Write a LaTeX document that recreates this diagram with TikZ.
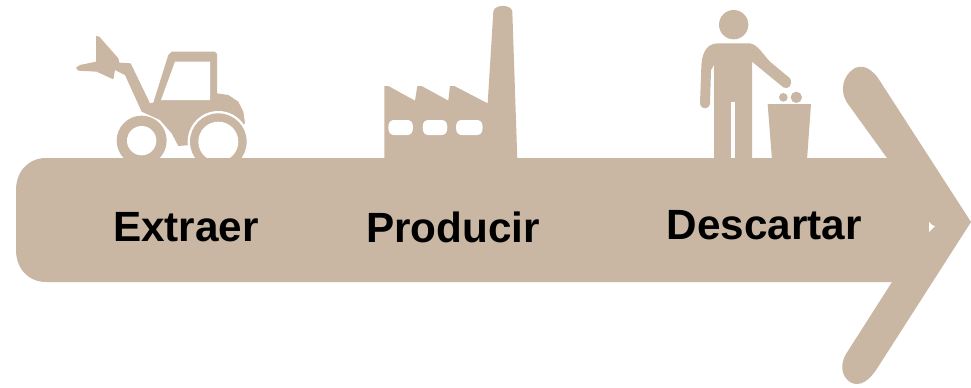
\documentclass[tikz,border=0pt]{standalone}
\usepackage{fontspec}
\setmainfont{Liberation Sans}
\definecolor{tan}{HTML}{C9B6A3}
\tikzset{
  tanfill/.style={fill=tan,draw=none},
  holefill/.style={fill=white,draw=none},
  labeltext/.style={font=\fontsize{31.7}{34}\selectfont\bfseries,text=black,inner sep=0pt,anchor=center},
  zoomone/.style={shift={(60,20)},scale=1/3},
  zoomtwo/.style={shift={(370,0)},scale=1/3},
  zoomthree/.style={shift={(680,0)},scale=1/3}
}
\begin{document}
\begin{tikzpicture}[x=0.75pt,y=-0.75pt]
\useasboundingbox (0,0) rectangle (971,387);
% tractor
\begin{scope}[zoomone]
\fill[tanfill] (108,48) -- (118,50) -- (175,115) -- (178,128) -- (212,130)
  -- (270,250) -- (280,248) -- (325,105) -- (335,95) -- (465,95) -- (471,102)
  -- (471,220) -- (505,225) -- (535,245) -- (550,275) -- (555,310) -- (540,320)
  -- (390,375) -- (355,378) -- (335,340) -- (300,300) -- (245,275)
  -- (195,165) -- (165,150) -- (160,178) -- (110,155) -- (55,152) -- (48,143)
  -- (60,135) -- (108,125) -- cycle;
\fill[holefill] (345,125) -- (450,125) -- (450,240) -- (303,240) -- cycle;
\fill[holefill] (475,365) circle (92);
\fill[tanfill] (475,365) circle (85);
\fill[holefill] (475,365) circle (60);
\fill[holefill] (245,365) circle (80);
\fill[tanfill] (245,362) circle (75);
\fill[holefill] (245,362) circle (44);
\end{scope}
% bar
\fill[tanfill] (46,158) -- (900,158) -- (900,282) -- (46,282)
  .. controls (28,282) and (16,268) .. (16,250) -- (16,190)
  .. controls (16,172) and (28,158) .. (46,158) -- cycle;
% arrow head
\fill[tanfill] (887,158) -- (848,104)
  .. controls (838,90) and (844,74) .. (855,68)
  .. controls (864,64) and (872,70) .. (878,78)
  -- (971,222) -- (878,367)
  .. controls (870,380) and (860,388) .. (850,382)
  .. controls (841,376) and (840,364) .. (846,354)
  -- (892,282) -- (880,220) -- cycle;
\fill[holefill] (929,222) -- (932,225) -- (935,226) -- (932,229) -- (929,232) -- cycle;
% factory
\begin{scope}[zoomtwo]
\fill[tanfill] (43,480) -- (43,258) -- (55,258) -- (135,302) -- (142,258) -- (155,258)
  -- (235,302) -- (240,258) -- (253,258) -- (353,310) -- (370,35)
  .. controls (372,12) and (425,12) .. (427,35) -- (442,480) -- cycle;
\foreach \cx/\w in {92/37,195/37,298/40}{
  \fill[holefill] (\cx-\w,382) .. controls (\cx-\w,365) and (\cx-\w+8,360) .. (\cx-\w+18,360)
    -- (\cx+\w-18,360) .. controls (\cx+\w-8,360) and (\cx+\w,365) .. (\cx+\w,382)
    .. controls (\cx+\w,400) and (\cx+\w-8,405) .. (\cx+\w-18,405)
    -- (\cx-\w+18,405) .. controls (\cx-\w+8,405) and (\cx-\w,400) .. (\cx-\w,382) -- cycle;
}
\end{scope}
% person and bin
\begin{scope}[zoomthree]
\fill[tanfill] (161,74) circle (44);
\fill[tanfill] (102,480) -- (102,195) -- (93,210) -- (90,310)
  .. controls (88,330) and (62,330) .. (60,310)
  -- (64,200) .. controls (66,150) and (85,130) .. (115,130)
  -- (210,130) .. controls (235,135) and (250,165) .. (270,185)
  -- (330,235) .. controls (340,255) and (325,270) .. (310,262)
  -- (216,185) -- (216,480) -- cycle;
\fill[holefill] (152,305) rectangle (164,474);
\fill[tanfill] (310,292) circle (13);
\fill[tanfill] (349,292) circle (17);
\fill[tanfill] (263,312) -- (393,312) -- (381,480) -- (276,480) -- cycle;
\end{scope}
\node[labeltext] (extraer) at (186,227) {Extraer};
\node[labeltext] (producir) at (453,227) {Producir};
\node[labeltext] (descartar) at (764,225) {Descartar};
\end{tikzpicture}
\end{document}
